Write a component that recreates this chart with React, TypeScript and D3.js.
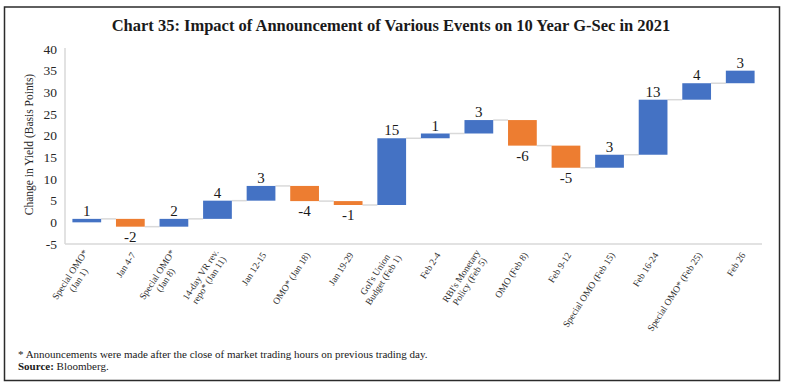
import React, { useEffect, useRef } from "react";
import * as d3 from "d3";

// categories (multi-line labels split by "|")
const categories = [
  "Special OMO*|(Jan 1)",
  "Jan 4-7",
  "Special OMO*|(Jan 8)",
  "14-day VR rev.|repo* (Jan 11)",
  "Jan 12-15",
  "OMO* (Jan 18)",
  "Jan 19-29",
  "GoI's Union|Budget (Feb 1)",
  "Feb 2-4",
  "RBI's Monetary|Policy (Feb 5)",
  "OMO (Feb 8)",
  "Feb 9-12",
  "Special OMO (Feb 15)",
  "Feb 16-24",
  "Special OMO* (Feb 25)",
  "Feb 26",
];

// change in yield for each event (bps)
const changes = [0.8, -1.8, 1.8, 4.2, 3.4, -3.5, -0.9, 15.4, 1.1, 3.1, -5.9, -5.1, 3.0, 12.7, 3.8, 2.9];

// labels printed on the bars
const labels = [1, -2, 2, 4, 3, -4, -1, 15, 1, 3, -6, -5, 3, 13, 4, 3];

const yTicks = [-5, 0, 5, 10, 15, 20, 25, 30, 35, 40];

const W = 788;
const H = 388;
const BLUE = "#4472C4";
const ORANGE = "#ED7D31";
const SERIF = "'Liberation Serif', 'Times New Roman', serif";

export default function App() {
  const ref = useRef<SVGSVGElement>(null);

  useEffect(() => {
    const svg = d3.select(ref.current);
    svg.selectAll("*").remove();

    const margin = { top: 49, right: 26, bottom: 144, left: 65 };
    const x0 = margin.left;
    const x1 = W - margin.right;
    const yTop = margin.top;
    const yBot = H - margin.bottom;

    // outer frame
    svg.append("rect")
      .attr("x", 4.5).attr("y", 7)
      .attr("width", 775).attr("height", 373.5)
      .attr("fill", "white")
      .attr("stroke", "#2b2b2b").attr("stroke-width", 1.5);

    // title
    svg.append("text")
      .attr("x", 391).attr("y", 31)
      .attr("text-anchor", "middle")
      .style("font-family", SERIF)
      .style("font-weight", "bold")
      .style("font-size", "16.5px")
      .attr("fill", "#1a1a1a")
      .text("Chart 35: Impact of Announcement of Various Events on 10 Year G-Sec in 2021");

    // running totals
    const starts: number[] = [];
    const ends: number[] = [];
    let acc = 0;
    changes.forEach(c => {
      starts.push(acc);
      acc += c;
      ends.push(acc);
    });

    const x = d3.scaleBand<number>()
      .domain(d3.range(categories.length))
      .range([x0, x1])
      .paddingInner(0.34)
      .paddingOuter(0.17);

    const y = d3.scaleLinear()
      .domain([-5, 40])
      .range([yBot, yTop]);

    // axis lines
    svg.append("line")
      .attr("x1", x0).attr("x2", x0)
      .attr("y1", yTop - 1).attr("y2", yBot)
      .attr("stroke", "#d9d9d9").attr("stroke-width", 1.5);
    svg.append("line")
      .attr("x1", x0).attr("x2", x1)
      .attr("y1", yBot).attr("y2", yBot)
      .attr("stroke", "#d9d9d9").attr("stroke-width", 1.5);

    // y tick labels
    svg.append("g")
      .selectAll("text")
      .data(yTicks)
      .enter()
      .append("text")
      .attr("x", 57)
      .attr("y", d => y(d))
      .attr("dy", "0.35em")
      .attr("text-anchor", "end")
      .style("font-family", SERIF)
      .style("font-size", "13.5px")
      .attr("fill", "#262626")
      .text(d => d);

    // y axis title
    svg.append("text")
      .attr("transform", `translate(33,${(yTop + yBot) / 2 - 2}) rotate(-90)`)
      .attr("text-anchor", "middle")
      .style("font-family", SERIF)
      .style("font-size", "11.5px")
      .attr("fill", "#262626")
      .text("Change  in Yield (Basis Points)");

    // connectors
    svg.append("g")
      .selectAll("line")
      .data(d3.range(categories.length - 1))
      .enter()
      .append("line")
      .attr("x1", i => x(i)! + x.bandwidth())
      .attr("x2", i => x(i + 1)!)
      .attr("y1", i => y(ends[i]))
      .attr("y2", i => y(ends[i]))
      .attr("stroke", "#d9d9d9")
      .attr("stroke-width", 1.5);

    // bars
    svg.append("g")
      .selectAll("rect")
      .data(changes)
      .enter()
      .append("rect")
      .attr("x", (_, i) => x(i)!)
      .attr("width", x.bandwidth())
      .attr("y", (_, i) => y(Math.max(starts[i], ends[i])))
      .attr("height", (_, i) => Math.abs(y(starts[i]) - y(ends[i])))
      .attr("fill", d => (d >= 0 ? BLUE : ORANGE));

    // value labels
    svg.append("g")
      .selectAll("text")
      .data(labels)
      .enter()
      .append("text")
      .attr("x", (_, i) => x(i)! + x.bandwidth() / 2)
      .attr("y", (d, i) =>
        d >= 0 ? y(Math.max(starts[i], ends[i])) - 3 : y(Math.min(starts[i], ends[i])) + 15
      )
      .attr("text-anchor", "middle")
      .style("font-family", SERIF)
      .style("font-size", "15px")
      .attr("fill", "#1a1a1a")
      .text(d => d);

    // x category labels, rotated
    const lh = 10;
    categories.forEach((cat, i) => {
      const lines = cat.split("|");
      const outer = svg.append("g")
        .attr("transform", `translate(${x(i)! + x.bandwidth() / 2 + 3},${yBot + 9}) rotate(-57)`);
      const inner = outer.append("g");
      lines.forEach((ln, k) => {
        inner.append("text")
          .attr("x", 0)
          .attr("y", (k - (lines.length - 1) / 2) * lh)
          .attr("dy", "0.35em")
          .attr("text-anchor", "middle")
          .style("font-family", SERIF)
          .style("font-size", "9.5px")
          .attr("fill", "#333")
          .text(ln);
      });
      const bb = (inner.node() as SVGGElement).getBBox();
      inner.attr("transform", `translate(${-(bb.x + bb.width)},0)`);
    });

    // footnotes
    svg.append("text")
      .attr("x", 18).attr("y", 358)
      .style("font-family", SERIF)
      .style("font-size", "11px")
      .attr("fill", "#1a1a1a")
      .text("* Announcements were made after the close of market trading hours on previous trading day.");
    const src = svg.append("text")
      .attr("x", 18).attr("y", 370)
      .style("font-family", SERIF)
      .style("font-size", "11px")
      .attr("fill", "#1a1a1a");
    src.append("tspan").style("font-weight", "bold").text("Source: ");
    src.append("tspan").text("Bloomberg.");
  }, []);

  return (
    <svg
      ref={ref}
      width={W}
      height={H}
      style={{ position: "absolute", left: 0, top: 0, background: "white" }}
    />
  );
}
